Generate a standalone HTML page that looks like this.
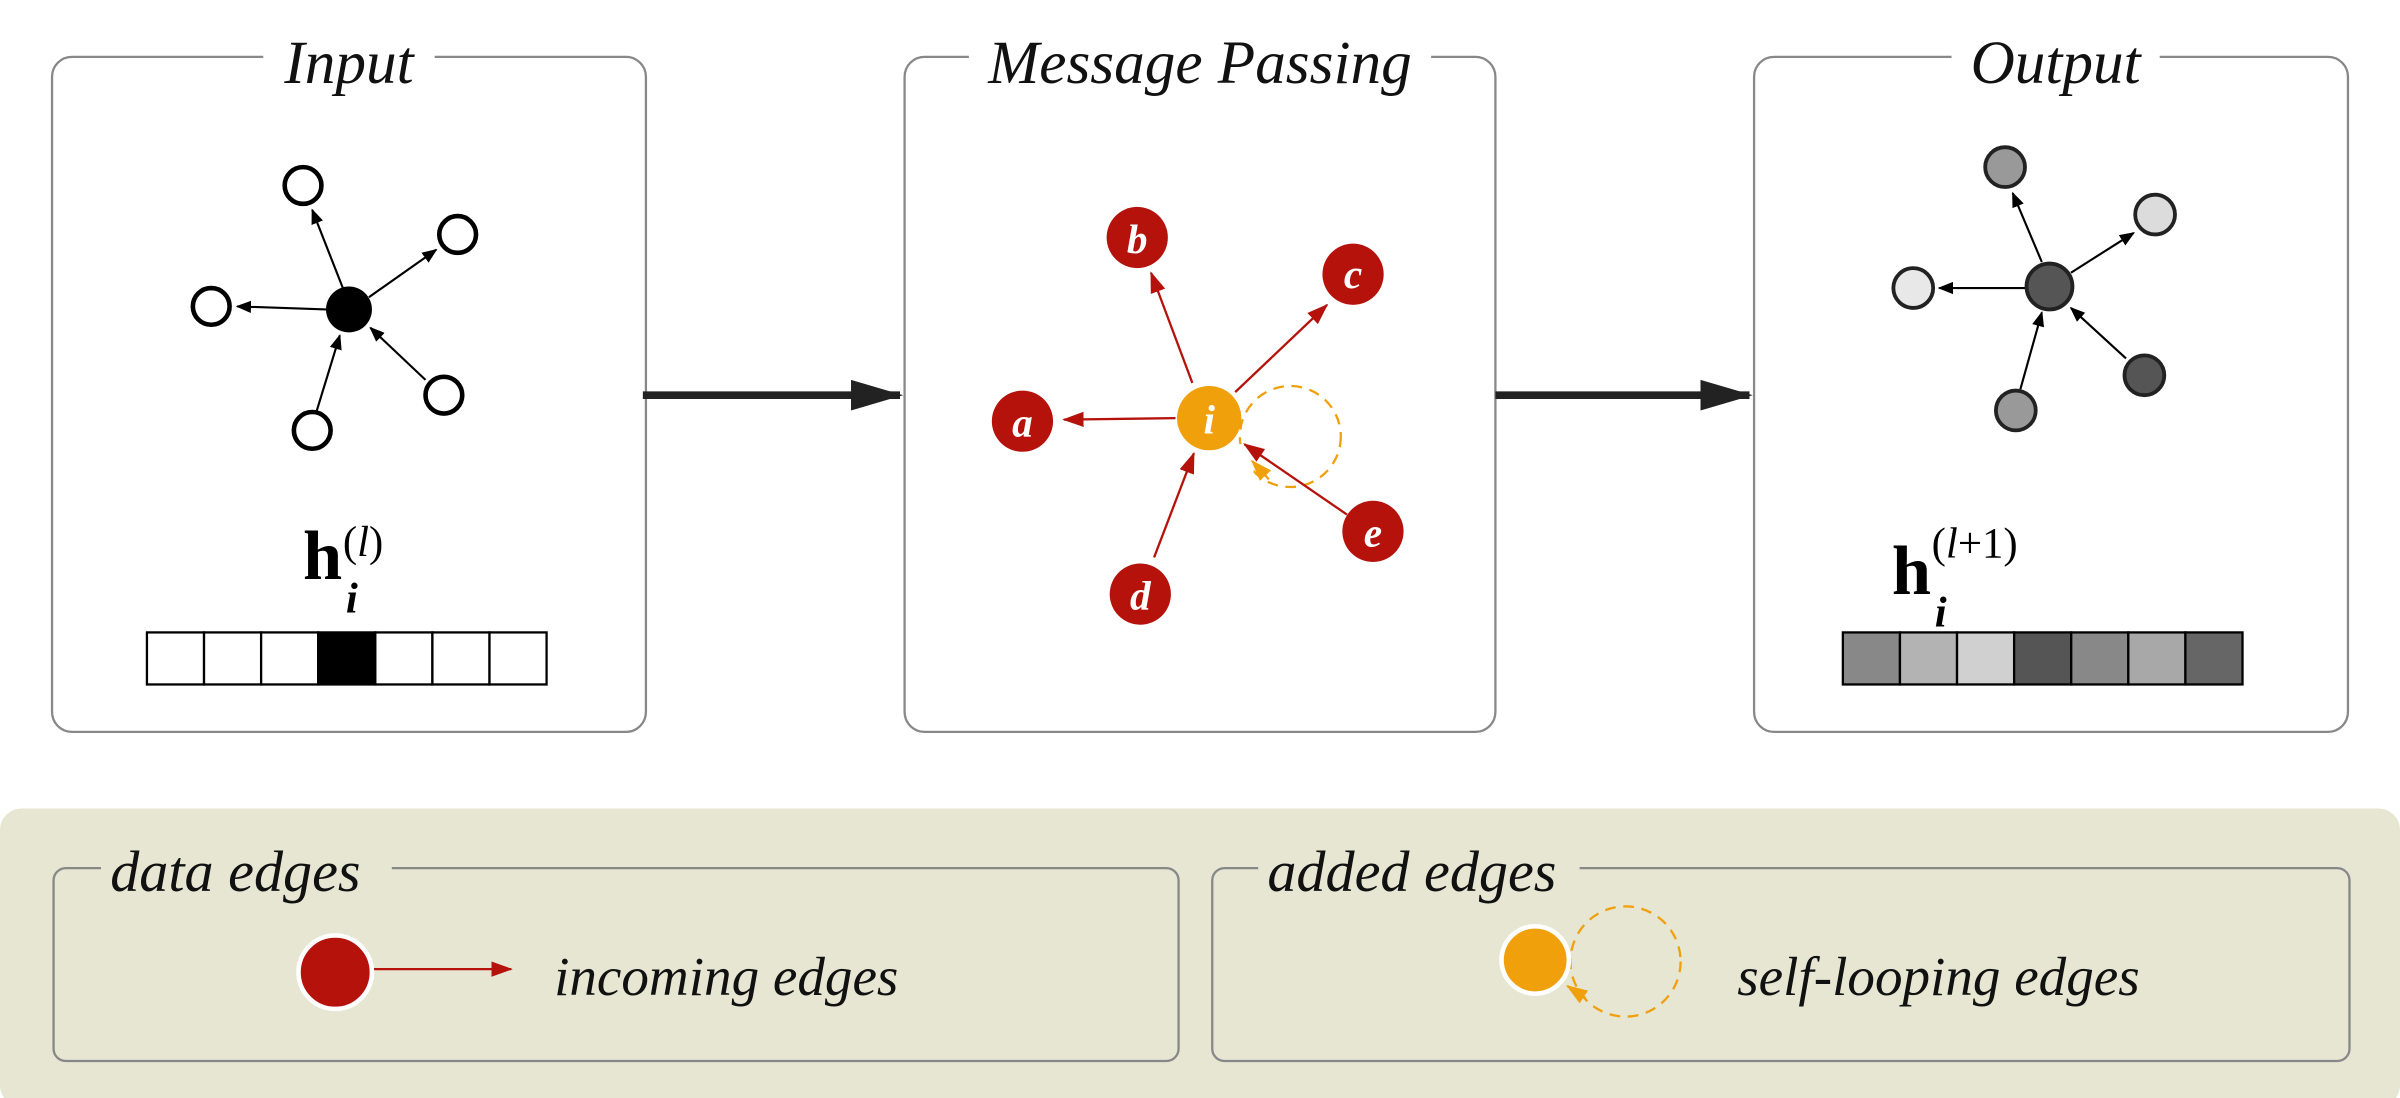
<!DOCTYPE html>
<html><head><meta charset="utf-8"><style>
html,body{margin:0;padding:0;background:#fff;}
svg{display:block;}
text{font-family:"Liberation Serif",serif;}
</style></head><body>
<svg width="2400" height="1098" viewBox="0 0 1568 717" xmlns="http://www.w3.org/2000/svg">
<defs>
<marker id="ak" markerWidth="10" markerHeight="10" refX="9" refY="5" orient="auto" markerUnits="userSpaceOnUse"><path d="M0,1 L10,5 L0,9 z" fill="#000"/></marker>
<marker id="ar" markerWidth="14" markerHeight="12" refX="13" refY="6" orient="auto" markerUnits="userSpaceOnUse"><path d="M0,1 L14,6 L0,11 z" fill="#b5120c"/></marker>
<marker id="ao" markerWidth="14" markerHeight="12" refX="13" refY="6" orient="auto" markerUnits="userSpaceOnUse"><path d="M0,1 L14,6 L0,11 z" fill="#f0a00a"/></marker>
<marker id="ab" markerWidth="34" markerHeight="24" refX="32" refY="12" orient="auto" markerUnits="userSpaceOnUse"><path d="M0,2 L34,12 L0,22 z" fill="#222"/></marker>
</defs>

<!-- panels -->
<g fill="none" stroke="#888" stroke-width="1.5">
<rect x="34" y="37" width="388" height="441" rx="13"/>
<rect x="591" y="37" width="386" height="441" rx="13"/>
<rect x="1146" y="37" width="388" height="441" rx="13"/>
</g>
<rect x="172" y="25" width="112" height="25" fill="#fff"/>
<rect x="633" y="25" width="302" height="25" fill="#fff"/>
<rect x="1275" y="25" width="136" height="25" fill="#fff"/>
<g font-style="italic" font-size="40" text-anchor="middle" fill="#111">
<text x="228" y="54">Input</text>
<text x="784" y="54">Message Passing</text>
<text x="1343" y="54">Output</text>
</g>

<!-- input graph -->
<g stroke="#000" stroke-width="1.4" marker-end="url(#ak)">
<line x1="224" y1="188" x2="204" y2="137"/>
<line x1="241" y1="194" x2="285" y2="163"/>
<line x1="213" y1="202" x2="155" y2="200"/>
<line x1="207" y1="268" x2="222" y2="219"/>
<line x1="278" y1="248" x2="242" y2="214"/>
</g>
<g fill="#fff" stroke="#000" stroke-width="3">
<circle cx="198" cy="121" r="12"/><circle cx="299" cy="153" r="12"/>
<circle cx="138" cy="200" r="12"/><circle cx="204" cy="281" r="12"/>
<circle cx="290" cy="258" r="12"/>
</g>
<circle cx="228" cy="202" r="15" fill="#000"/>
<text x="198" y="378" font-size="46" font-weight="bold" fill="#000">h</text>
<text x="226" y="400" font-size="28" font-weight="bold" font-style="italic">i</text>
<text x="224" y="363" font-size="28">(<tspan font-style="italic">l</tspan>)</text>
<g stroke="#000" stroke-width="1.5" fill="#fff">
<rect x="96" y="413" width="37.3" height="34"/><rect x="133.3" y="413" width="37.3" height="34"/>
<rect x="170.6" y="413" width="37.3" height="34"/><rect x="207.9" y="413" width="37.3" height="34" fill="#000"/>
<rect x="245.2" y="413" width="37.3" height="34"/><rect x="282.5" y="413" width="37.3" height="34"/>
<rect x="319.8" y="413" width="37.3" height="34"/>
</g>

<!-- big arrows -->
<line x1="420" y1="258" x2="588" y2="258" stroke="#222" stroke-width="5" marker-end="url(#ab)"/>
<line x1="977" y1="258" x2="1143" y2="258" stroke="#222" stroke-width="5" marker-end="url(#ab)"/>

<!-- message passing -->
<circle cx="843" cy="285" r="33" fill="none" stroke="#f0a00a" stroke-width="1.5" stroke-dasharray="7,5"/>
<rect x="805" y="290" width="14" height="20" fill="#fff"/>
<path d="M829,313 L818,301" stroke="#f0a00a" stroke-width="1.5" marker-end="url(#ao)"/>
<g stroke="#b5120c" stroke-width="1.5" marker-end="url(#ar)">
<line x1="768" y1="273" x2="695" y2="274"/>
<line x1="779" y1="250" x2="752" y2="178"/>
<line x1="807" y1="256" x2="867" y2="199"/>
<line x1="754" y1="364" x2="780" y2="296"/>
<line x1="880" y1="336" x2="813" y2="290"/>
</g>
<g fill="#b5120c">
<circle cx="668" cy="275" r="20"/><circle cx="743" cy="155" r="20"/>
<circle cx="884" cy="179" r="20"/><circle cx="745" cy="388" r="20"/>
<circle cx="897" cy="347" r="20"/>
</g>
<circle cx="790" cy="273" r="21" fill="#f0a00a"/>
<g fill="#fff" font-style="italic" font-weight="bold" font-size="27" text-anchor="middle">
<text x="668" y="285">a</text><text x="743" y="165">b</text><text x="884" y="188">c</text>
<text x="745" y="398">d</text><text x="897" y="357">e</text><text x="790" y="283">i</text>
</g>

<!-- output graph -->
<g stroke="#000" stroke-width="1.4" marker-end="url(#ak)">
<line x1="1334" y1="171" x2="1315" y2="126"/>
<line x1="1353" y1="178" x2="1394" y2="152"/>
<line x1="1323" y1="188" x2="1267" y2="188"/>
<line x1="1320" y1="254" x2="1334" y2="204"/>
<line x1="1389" y1="234" x2="1353" y2="201"/>
</g>
<g stroke="#222" stroke-width="2.5">
<circle cx="1310" cy="109" r="13" fill="#999"/><circle cx="1408" cy="140" r="13" fill="#dcdcdc"/>
<circle cx="1250" cy="188" r="13" fill="#e8e8e8"/><circle cx="1317" cy="268" r="13" fill="#999"/>
<circle cx="1401" cy="245" r="13" fill="#555"/><circle cx="1339" cy="187" r="15" fill="#555"/>
</g>
<text x="1236" y="388" font-size="46" font-weight="bold" fill="#000">h</text>
<text x="1264" y="409" font-size="28" font-weight="bold" font-style="italic">i</text>
<text x="1262" y="364" font-size="28">(<tspan font-style="italic">l</tspan>+1)</text>
<g stroke="#000" stroke-width="1.5">
<rect x="1204" y="413" width="37.3" height="34" fill="#888"/><rect x="1241.3" y="413" width="37.3" height="34" fill="#b3b3b3"/>
<rect x="1278.6" y="413" width="37.3" height="34" fill="#d0d0d0"/><rect x="1315.9" y="413" width="37.3" height="34" fill="#555"/>
<rect x="1353.2" y="413" width="37.3" height="34" fill="#888"/><rect x="1390.5" y="413" width="37.3" height="34" fill="#a8a8a8"/>
<rect x="1427.8" y="413" width="37.3" height="34" fill="#666"/>
</g>

<!-- legend -->
<rect x="0" y="528" width="1568" height="195" rx="14" fill="#e6e6d3"/>
<g fill="none" stroke="#888" stroke-width="1.5">
<rect x="35" y="567" width="735" height="126" rx="8"/>
<rect x="792" y="567" width="743" height="126" rx="8"/>
</g>
<rect x="66" y="555" width="190" height="25" fill="#e6e6d3"/>
<rect x="822" y="555" width="210" height="25" fill="#e6e6d3"/>
<g font-style="italic" font-size="38" fill="#111">
<text x="72" y="582">data edges</text>
<text x="828" y="582">added edges</text>
</g>
<line x1="244" y1="633" x2="334" y2="633" stroke="#b5120c" stroke-width="1.5" marker-end="url(#ar)"/>
<circle cx="219" cy="635" r="24" fill="#b5120c" stroke="#fff" stroke-width="3"/>
<circle cx="1062" cy="628" r="36" fill="none" stroke="#f0a00a" stroke-width="1.5" stroke-dasharray="7,5"/>
<circle cx="1003" cy="627" r="22" fill="#f0a00a" stroke="#fff" stroke-width="3"/>
<path d="M1036,652 L1024,644" stroke="#f0a00a" stroke-width="1.5" marker-end="url(#ao)"/>
<g font-style="italic" font-size="36" fill="#111">
<text x="362" y="650">incoming edges</text>
<text x="1135" y="650">self-looping edges</text>
</g>
</svg>
</body></html>
